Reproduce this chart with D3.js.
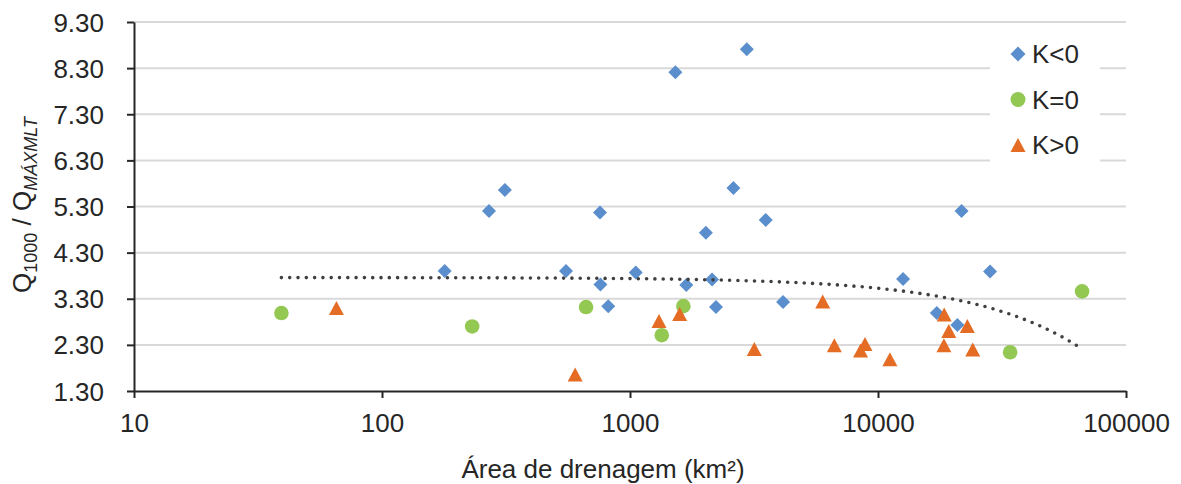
<!DOCTYPE html>
<html>
<head>
<meta charset="utf-8">
<script src="https://cdn.jsdelivr.net/npm/d3@7"></script>
<style>
	body { margin: 0; background: #fff; }
	svg { display: block; font-family: "Liberation Sans", Arial, sans-serif; }
</style>
</head>
<body>
<div id="chart"></div>
<script>
// K<0
var negArea = [179, 270, 313, 552, 757, 760, 817, 1055, 1524, 1687, 2023, 2142, 2222, 2612, 2958, 3526, 4141, 12620, 17260, 20900, 21730, 28300];
var negRatio = [3.90, 5.20, 5.66, 3.90, 5.17, 3.61, 3.14, 3.87, 8.21, 3.60, 4.73, 3.72, 3.12, 5.70, 8.71, 5.01, 3.23, 3.73, 2.99, 2.73, 5.20, 3.89];
// K=0
var zeroArea = [39.3, 231, 665, 1343, 1641, 34100, 66500];
var zeroRatio = [2.99, 2.70, 3.12, 2.51, 3.14, 2.14, 3.46];
// K>0
var posArea = [65.5, 601, 1309, 1586, 3171, 5985, 6667, 8505, 8862, 11170, 18440, 18490, 19300, 22920, 24100];
var posRatio = [3.10, 1.66, 2.82, 2.97, 2.21, 3.24, 2.29, 2.18, 2.32, 1.99, 2.29, 2.96, 2.60, 2.71, 2.20];

var seriesNames = ["K<0", "K=0", "K>0"];
var xTicks = [10, 100, 1000, 10000, 100000];
var yTicks = [1.3, 2.3, 3.3, 4.3, 5.3, 6.3, 7.3, 8.3, 9.3];

// linear trendline (Excel style), coefficients
var trendIntercept = 3.76;
var trendSlope = -2.33e-5;

var width = 1181, height = 484;
var margins = {left: 134, right: 55, top: 22, bottom: 93};

var svg = d3.select("#chart")
	.append("svg")
	.attr("width", width)
	.attr("height", height);

var x = d3.scaleLog()
	.domain([10, 100000])
	.range([margins.left, width - margins.right]);
var y = d3.scaleLinear()
	.domain([1.3, 9.3])
	.range([height - margins.bottom, margins.top]);

var colors = {"K<0": "#5a8ecc", "K=0": "#93c852", "K>0": "#e46c24"};

// gridlines
svg.append("g")
	.attr("class", "grid")
	.selectAll("line")
	.data(yTicks.slice(1))
	.enter()
	.append("line")
	.attr("x1", x.range()[0])
	.attr("x2", x.range()[1])
	.attr("y1", function(d) { return y(d); })
	.attr("y2", function(d) { return y(d); })
	.attr("stroke", "#d9d9d9")
	.attr("stroke-width", 2);

// axes
var xAxis = d3.axisBottom(x)
	.tickValues(xTicks)
	.tickFormat(d3.format("d"))
	.tickSize(7)
	.tickSizeOuter(0);
var yAxis = d3.axisLeft(y)
	.tickValues(yTicks)
	.tickFormat(d3.format(".2f"))
	.tickSize(7)
	.tickSizeOuter(0);

var gx = svg.append("g")
	.attr("transform", "translate(0," + y.range()[0] + ")")
	.call(xAxis);
var gy = svg.append("g")
	.attr("transform", "translate(" + x.range()[0] + ",0)")
	.call(yAxis);

[gx, gy].forEach(function(g) {
	g.select(".domain").attr("stroke", "#262626").attr("stroke-width", 2);
	g.selectAll(".tick line").attr("stroke", "#262626").attr("stroke-width", 2);
	g.selectAll(".tick text")
		.attr("fill", "#262626")
		.style("font-size", "26px")
		.style("font-family", "'Liberation Sans', Arial, sans-serif");
});
gx.selectAll(".tick text").attr("y", 0).attr("dy", 41);
gy.selectAll(".tick text").attr("x", -30).attr("dy", 9);

// markers
function diamond(cx, cy, r) {
	return "M" + cx + "," + (cy - r) + "L" + (cx + r) + "," + cy + "L" + cx + "," + (cy + r) + "L" + (cx - r) + "," + cy + "Z";
}
function triangle(cx, cy, w, h) {
	return "M" + cx + "," + (cy - h / 2) + "L" + (cx + w / 2) + "," + (cy + h / 2) + "L" + (cx - w / 2) + "," + (cy + h / 2) + "Z";
}

var negData = negArea.map(function(a, i) { return {x: a, y: negRatio[i]}; });
var zeroData = zeroArea.map(function(a, i) { return {x: a, y: zeroRatio[i]}; });
var posData = posArea.map(function(a, i) { return {x: a, y: posRatio[i]}; });

svg.append("g").selectAll("path")
	.data(negData)
	.enter()
	.append("path")
	.attr("d", function(d) { return diamond(x(d.x), y(d.y), 7); })
	.attr("fill", colors["K<0"]);

svg.append("g").selectAll("circle")
	.data(zeroData)
	.enter()
	.append("circle")
	.attr("cx", function(d) { return x(d.x); })
	.attr("cy", function(d) { return y(d.y); })
	.attr("r", 7.3)
	.attr("fill", colors["K=0"]);

svg.append("g").selectAll("path")
	.data(posData)
	.enter()
	.append("path")
	.attr("d", function(d) { return triangle(x(d.x), y(d.y), 15, 14); })
	.attr("fill", colors["K>0"]);

// trendline over the full range of areas
var allArea = negArea.concat(zeroArea, posArea);
var ext = d3.extent(allArea);
var trendX = d3.range(0, 201).map(function(i) {
	return Math.pow(10, Math.log10(ext[0]) + (Math.log10(ext[1]) - Math.log10(ext[0])) * i / 200);
});
var trendLine = d3.line()
	.x(function(d) { return x(d); })
	.y(function(d) { return y(trendIntercept + trendSlope * d); });
svg.append("path")
	.datum(trendX)
	.attr("d", trendLine)
	.attr("fill", "none")
	.attr("stroke", "#404040")
	.attr("stroke-width", 3.6)
	.attr("stroke-linecap", "round")
	.attr("stroke-dasharray", "0 8.3");

// legend
var legend = svg.append("g").attr("class", "legend");
legend.append("rect")
	.attr("x", 990)
	.attr("y", 29)
	.attr("width", 110)
	.attr("height", 143)
	.attr("fill", "#fff");
seriesNames.forEach(function(name, i) {
	var cy = 54 + i * 45.5;
	if (name === "K<0") {
		legend.append("path").attr("d", diamond(1018, cy, 7.5)).attr("fill", colors[name]);
	} else if (name === "K=0") {
		legend.append("circle").attr("cx", 1018).attr("cy", cy).attr("r", 7.5).attr("fill", colors[name]);
	} else {
		legend.append("path").attr("d", triangle(1018, cy, 15, 14)).attr("fill", colors[name]);
	}
	legend.append("text")
		.attr("x", 1032)
		.attr("y", cy + 9)
		.attr("fill", "#262626")
		.style("font-size", "26px")
		.text(name);
});

// axis titles
svg.append("text")
	.attr("x", 603)
	.attr("y", 478)
	.attr("text-anchor", "middle")
	.attr("fill", "#262626")
	.style("font-size", "26px")
	.text("Área de drenagem (km²)");

var yTitle = svg.append("text")
	.attr("transform", "translate(31,205) rotate(-90)")
	.attr("text-anchor", "middle")
	.attr("fill", "#262626")
	.style("font-size", "26px");
yTitle.append("tspan").text("Q");
yTitle.append("tspan").attr("dy", 6).style("font-size", "18px").text("1000");
yTitle.append("tspan").attr("dy", -6).text(" / Q");
yTitle.append("tspan").attr("dy", 6).style("font-size", "18px").style("font-style", "italic").text("MÁXMLT");
</script>
</body>
</html>
